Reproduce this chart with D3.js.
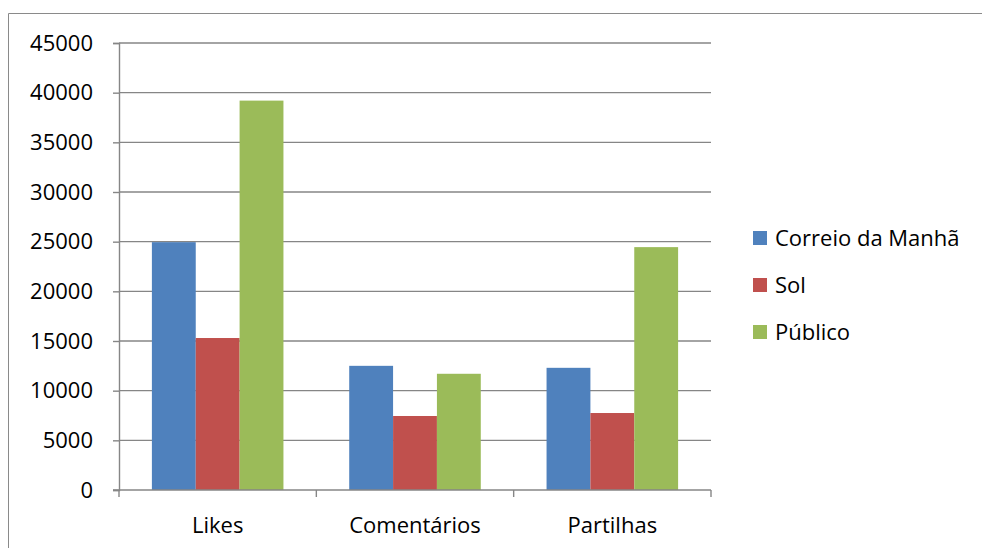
<!DOCTYPE html>
<html>
<head>
<meta charset="utf-8">
<script src="https://cdn.jsdelivr.net/npm/d3@7"></script>
<style>
  html, body { margin: 0; padding: 0; background: #fff; }
  svg { display: block; }
  text { font-family: "Open Sans", "Noto Sans", sans-serif; fill: #000; }
</style>
</head>
<body>
<svg id="chart" width="982" height="548"></svg>
<script>
// Interaction counts per outlet
const categories = ["Likes", "Comentários", "Partilhas"];
const seriesNames = ["Correio da Manhã", "Sol", "Público"];
const correioDaManha = [24950, 12500, 12300];
const sol = [15300, 7450, 7750];
const publico = [39200, 11700, 24450];
const yTicks = [0, 5000, 10000, 15000, 20000, 25000, 30000, 35000, 40000, 45000];
const colors = ["#4f81bd", "#c0504d", "#9bbb59"];

const seriesValues = [correioDaManha, sol, publico];
const rows = categories.map((c, i) => ({
  category: c,
  values: seriesNames.map((s, j) => ({ series: s, value: seriesValues[j][i] }))
}));

const svg = d3.select("#chart");
const W = 982, H = 548;
const margin = { left: 119, right: 271, top: 43, bottom: 58 };
const plotW = W - margin.left - margin.right;
const plotH = H - margin.top - margin.bottom;
const FONT = 22;

// Outer frame (top and left edges visible)
svg.append("path")
  .attr("d", `M8.5,${H} L8.5,13.5 L${W},13.5`)
  .attr("fill", "none")
  .attr("stroke", "#8a8a8a")
  .attr("stroke-width", 1);

const g = svg.append("g").attr("transform", `translate(${margin.left},${margin.top})`);

const x0 = d3.scaleBand().domain(categories).range([0, plotW]).paddingInner(0).paddingOuter(0);
// gap width of 150% of a bar: group = 3 bars, gap = 1.5 bars
const x1 = d3.scaleBand().domain(seriesNames)
  .range([x0.bandwidth() * 0.75 / 4.5, x0.bandwidth() - x0.bandwidth() * 0.75 / 4.5]);
const y = d3.scaleLinear().domain([0, 45000]).range([plotH, 0]);

// Horizontal gridlines
g.append("g").selectAll("line")
  .data(yTicks.filter(t => t > 0))
  .join("line")
  .attr("x1", 0).attr("x2", plotW)
  .attr("y1", d => y(d)).attr("y2", d => y(d))
  .attr("stroke", "#868686").attr("stroke-width", 1.4);

// Bars
g.append("g").selectAll("g")
  .data(rows)
  .join("g")
  .attr("transform", d => `translate(${x0(d.category)},0)`)
  .selectAll("rect")
  .data(d => d.values)
  .join("rect")
  .attr("x", d => x1(d.series))
  .attr("width", x1.bandwidth())
  .attr("y", d => y(d.value))
  .attr("height", d => plotH - y(d.value))
  .attr("fill", (d, i) => colors[i]);

// Y axis
const yAxis = g.append("g")
  .call(d3.axisLeft(y).tickValues(yTicks).tickSize(6).tickPadding(20).tickFormat(d3.format("d")));
yAxis.select(".domain").attr("stroke", "#868686").attr("stroke-width", 1.4);
yAxis.selectAll(".tick line").attr("stroke", "#868686").attr("stroke-width", 1.4);
yAxis.selectAll(".tick text").attr("font-size", FONT).attr("font-family", "Open Sans").attr("fill", "#000");

// X axis
const xAxisG = g.append("g").attr("transform", `translate(0,${plotH})`);
xAxisG.append("line")
  .attr("x1", -6).attr("x2", plotW)
  .attr("stroke", "#868686").attr("stroke-width", 1.4);
xAxisG.selectAll("line.tick")
  .data(d3.range(categories.length + 1))
  .join("line")
  .attr("class", "tick")
  .attr("x1", i => i * x0.step()).attr("x2", i => i * x0.step())
  .attr("y1", 0).attr("y2", 7)
  .attr("stroke", "#868686").attr("stroke-width", 1.4);
xAxisG.selectAll("text")
  .data(categories)
  .join("text")
  .attr("x", d => x0(d) + x0.bandwidth() / 2)
  .attr("y", 43)
  .attr("text-anchor", "middle")
  .attr("font-size", FONT)
  .text(d => d);

// Legend
const legend = svg.append("g").attr("transform", "translate(753,0)");
const legendY = [238, 285, 332];
const items = legend.selectAll("g")
  .data(seriesNames)
  .join("g")
  .attr("transform", (d, i) => `translate(0,${legendY[i]})`);
items.append("rect")
  .attr("x", 0).attr("y", -7).attr("width", 14).attr("height", 14)
  .attr("fill", (d, i) => colors[i]);
items.append("text")
  .attr("x", 22).attr("y", 8)
  .attr("font-size", FONT)
  .text(d => d);
</script>
</body>
</html>
